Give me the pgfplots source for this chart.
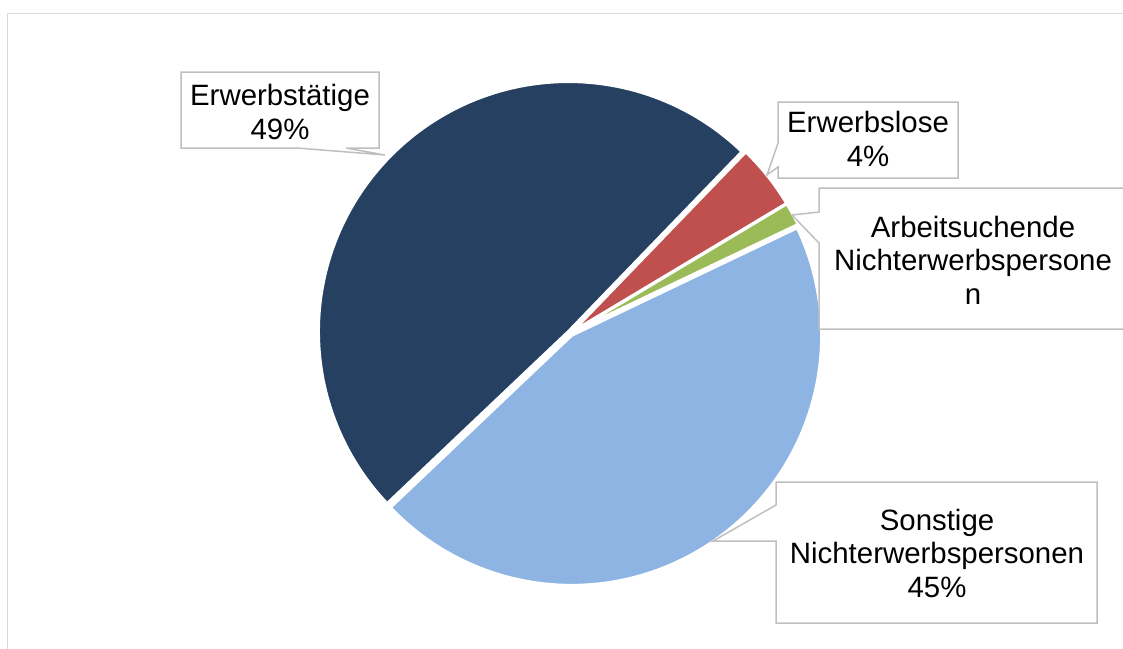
\documentclass[border=0pt]{standalone}
\usepackage{pgfplots}
\pgfplotsset{compat=1.18}
\usepackage{pgfplotstable}
\usepackage{fontspec}
\setmainfont{Liberation Sans}
\definecolor{cA}{HTML}{264061}
\definecolor{cB}{HTML}{C0504D}
\definecolor{cC}{HTML}{9BBB59}
\definecolor{cD}{HTML}{8EB4E3}
\definecolor{boxgray}{HTML}{BFBFBF}
\definecolor{framegray}{HTML}{D9D9D9}

\pgfplotstableread{
name value
Erwerbstaetige 49.3
Erwerbslose 4.2
Arbeitsuchende 1.5
Sonstige 45.0
}\piedata

\begin{document}
\begin{tikzpicture}
\pgfplotstablegetelem{0}{value}\of\piedata \let\vA\pgfplotsretval
\pgfplotstablegetelem{1}{value}\of\piedata \let\vB\pgfplotsretval
\pgfplotstablegetelem{2}{value}\of\piedata \let\vC\pgfplotsretval
\pgfplotstablegetelem{3}{value}\of\piedata \let\vD\pgfplotsretval
\pgfmathsetmacro\aA{223.5}
\pgfmathsetmacro\aB{\aA-3.6*\vA}
\pgfmathsetmacro\aC{\aB-3.6*\vB}
\pgfmathsetmacro\aD{\aC-3.6*\vC}
\pgfmathsetmacro\aE{\aD-3.6*\vD}
\pgfmathsetmacro\mA{(\aA+\aB)/2}
\pgfmathsetmacro\mB{(\aB+\aC)/2}
\pgfmathsetmacro\mC{(\aC+\aD)/2}
\pgfmathsetmacro\mD{(\aD+\aE)/2}
\def\cx{570.2}\def\cy{333.3}\def\ex{2.5}\def\R{250}
\pgfmathsetmacro\xA{\cx+\ex*cos(\mA)}\pgfmathsetmacro\yA{\cy-\ex*sin(\mA)}
\pgfmathsetmacro\xB{\cx+\ex*cos(\mB)}\pgfmathsetmacro\yB{\cy-\ex*sin(\mB)}
\pgfmathsetmacro\xC{\cx+\ex*cos(\mC)}\pgfmathsetmacro\yC{\cy-\ex*sin(\mC)}
\pgfmathsetmacro\xD{\cx+\ex*cos(\mD)}\pgfmathsetmacro\yD{\cy-\ex*sin(\mD)}
\useasboundingbox (0,0) rectangle (1123pt,648pt);
\clip (0,0) rectangle (1123pt,648pt);
\begin{axis}[x=1pt,y=1pt,y dir=reverse,xmin=0,xmax=1123,ymin=0,ymax=648,
  hide axis,scale only axis,clip=false,anchor=south west,at={(0,0)}]
\draw[framegray,line width=1.5pt] (axis cs:7.5,1000) -- (axis cs:7.5,13.3) -- (axis cs:1300,13.3);
\addplot[fill=cA,draw=white,line width=3pt,line join=round,domain=\aB:\aA,samples=120,variable=\t]
  ({\xA+\R*cos(\t)},{\yA-\R*sin(\t)}) -- (axis cs:\xA,\yA) -- cycle;
\addplot[fill=cB,draw=white,line width=3pt,line join=round,domain=\aC:\aB,samples=30,variable=\t]
  ({\xB+\R*cos(\t)},{\yB-\R*sin(\t)}) -- (axis cs:\xB,\yB) -- cycle;
\addplot[fill=cC,draw=white,line width=3pt,line join=round,domain=\aD:\aC,samples=20,variable=\t]
  ({\xC+\R*cos(\t)},{\yC-\R*sin(\t)}) -- (axis cs:\xC,\yC) -- cycle;
\addplot[fill=cD,draw=white,line width=3pt,line join=round,domain=\aE:\aD,samples=120,variable=\t]
  ({\xD+\R*cos(\t)},{\yD-\R*sin(\t)}) -- (axis cs:\xD,\yD) -- cycle;
% callouts
\draw[boxgray,line width=1.5pt,fill=white] (axis cs:181,72) -- (axis cs:379,72) -- (axis cs:379,148) -- (axis cs:346,148) -- (axis cs:385,155) -- (axis cs:297,148) -- (axis cs:181,148) -- cycle;
\draw[boxgray,line width=1.5pt,fill=white] (axis cs:778,102) -- (axis cs:958,102) -- (axis cs:958,178) -- (axis cs:778,178) -- (axis cs:778,167) -- (axis cs:767,175) -- (axis cs:778,143) -- cycle;
\draw[boxgray,line width=1.5pt,fill=white] (axis cs:819,188) -- (axis cs:1140,188) -- (axis cs:1140,329) -- (axis cs:819,329) -- (axis cs:819,243) -- (axis cs:792,215) -- (axis cs:819,212) -- cycle;
\draw[boxgray,line width=1.5pt,fill=white] (axis cs:776,482) -- (axis cs:1097,482) -- (axis cs:1097,623) -- (axis cs:776,623) -- (axis cs:776,541) -- (axis cs:713,541) -- (axis cs:776,505) -- cycle;
\tikzset{lbl/.style={font={\fontsize{29.4}{33.5}\selectfont},align=center,text=black,inner sep=0pt}}
\node[lbl] at (axis cs:280,112) {Erwerbstätige\\49\%};
\node[lbl] at (axis cs:868,139) {Erwerbslose\\4\%};
\node[lbl] at (axis cs:973,260) {Arbeitsuchende\\Nichterwerbspersone\\n};
\node[lbl] at (axis cs:937,553) {Sonstige\\Nichterwerbspersonen\\45\%};
\end{axis}
\end{tikzpicture}
\end{document}
